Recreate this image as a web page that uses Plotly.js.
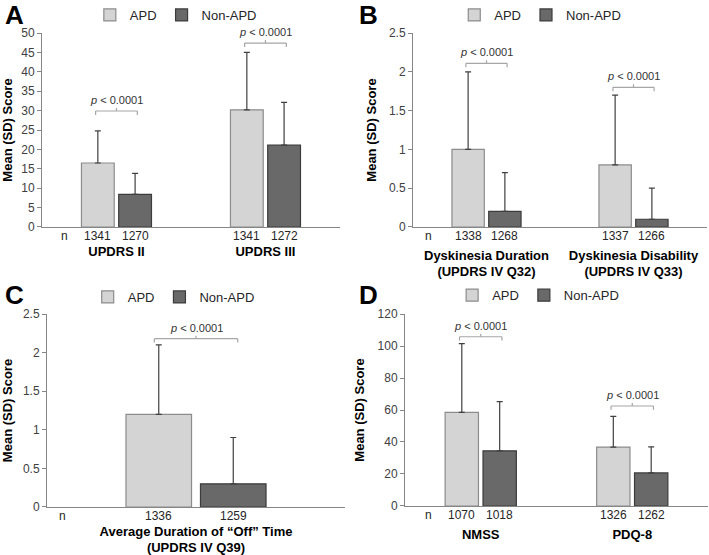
<!DOCTYPE html>
<html>
<head>
<meta charset="utf-8">
<script src="https://cdn.plot.ly/plotly-3.0.1.min.js"></script>
<style>
  html, body { margin: 0; padding: 0; background: #fff; }
  #chartBox { width: 709px; height: 555px; }
</style>
</head>
<body>
<div id="chartBox"></div>
<script>
// A: UPDRS II / III
const groupsA = ['UPDRS II', 'UPDRS III'];
const apdMeanA = [16.5, 30.2];
const apdSdA = [8.3, 14.8];
const nonMeanA = [8.4, 21.1];
const nonSdA = [5.4, 11.0];
const apdNA = [1341, 1341];
const nonNA = [1270, 1272];
const bracketA = [29.9, 47.4];

// B: dyskinesia
const groupsB = ['Dyskinesia Duration<br>(UPDRS IV Q32)', 'Dyskinesia Disability<br>(UPDRS IV Q33)'];
const apdMeanB = [1.0, 0.8];
const apdSdB = [1.0, 0.9];
const nonMeanB = [0.2, 0.1];
const nonSdB = [0.5, 0.4];
const apdNB = [1338, 1337];
const nonNB = [1268, 1266];
const bracketB = [2.11, 1.80];

// C: off time
const groupsC = ['Average Duration of \u201cOff\u201d Time<br>(UPDRS IV Q39)'];
const apdMeanC = [1.2];
const apdSdC = [0.9];
const nonMeanC = [0.3];
const nonSdC = [0.6];
const apdNC = [1336];
const nonNC = [1259];
const bracketC = [2.18];

// D: NMSS / PDQ-8
const groupsD = ['NMSS', 'PDQ-8'];
const apdMeanD = [58.5, 36.8];
const apdSdD = [43.0, 19.2];
const nonMeanD = [34.5, 20.7];
const nonSdD = [30.8, 16.3];
const apdND = [1070, 1326];
const nonND = [1018, 1262];
const bracketD = [105.8, 62.5];

const FONT = 'Liberation Sans, Arial, sans-serif';
const AXIS_COLOR = '#868686';

const panels = [
  { letter: 'A', groups: groupsA, apd: apdMeanA, apdSd: apdSdA, non: nonMeanA, nonSd: nonSdA, apdN: apdNA, nonN: nonNA, bracket: bracketA,
    yRange: [0, 50], dtick: 5, xDom: [0.0592, 0.4795], yDom: [0.591, 0.9405], standoff: 12, nX: 0.057,
    legendPos: [0.248, 0.973], letterPos: [0.004, 0.973] },
  { letter: 'B', groups: groupsB, apd: apdMeanB, apdSd: apdSdB, non: nonMeanB, nonSd: nonSdB, apdN: apdNB, nonN: nonNB, bracket: bracketB,
    yRange: [0, 2.5], dtick: 0.5, xDom: [0.5825, 0.9972], yDom: [0.591, 0.9405], standoff: 16, nX: 0.034,
    legendPos: [0.762, 0.973], letterPos: [0.503, 0.973] },
  { letter: 'C', groups: groupsC, apd: apdMeanC, apdSd: apdSdC, non: nonMeanC, nonSd: nonSdC, apdN: apdNC, nonN: nonNC, bracket: bracketC,
    yRange: [0, 2.5], dtick: 0.5, xDom: [0.0663, 0.4866], yDom: [0.0865, 0.4342], standoff: 12, nX: 0.034,
    legendPos: [0.245, 0.465], letterPos: [0.004, 0.468] },
  { letter: 'D', groups: groupsD, apd: apdMeanD, apdSd: apdSdD, non: nonMeanD, nonSd: nonSdD, apdN: apdND, nonN: nonND, bracket: bracketD,
    yRange: [0, 120], dtick: 20, xDom: [0.5712, 0.9986], yDom: [0.0883, 0.4342], standoff: 16, nX: 0.06,
    legendPos: [0.759, 0.468], letterPos: [0.503, 0.468] },
];

const data = [];
const layout = {
  width: 709,
  height: 555,
  margin: { l: 0, r: 0, t: 0, b: 0 },
  paper_bgcolor: '#fff',
  plot_bgcolor: 'rgba(0,0,0,0)',
  font: { family: FONT, color: '#262626' },
  barmode: 'group',
  bargap: 0.5,
  bargroupgap: 0.12,
  showlegend: true,
  annotations: [],
  shapes: [],
};

panels.forEach((p, k) => {
  const sfx = k === 0 ? '' : String(k + 1);
  const xa = 'x' + sfx, ya = 'y' + sfx;
  const legendName = 'legend' + sfx;
  const zeros = p.apd.map(() => 0);

  data.push({
    type: 'bar', name: 'APD', x: p.groups, y: p.apd,
    xaxis: xa, yaxis: ya, legend: legendName,
    marker: { color: '#d4d4d4', line: { color: '#8c8c8c', width: 1.2 } },
    error_y: { type: 'data', symmetric: false, array: p.apdSd, arrayminus: zeros, color: '#404040', thickness: 1.2, width: 3 },
    hoverinfo: 'skip',
  });
  data.push({
    type: 'bar', name: 'Non-APD', x: p.groups, y: p.non,
    xaxis: xa, yaxis: ya, legend: legendName,
    marker: { color: '#696969', line: { color: '#3c3c3c', width: 1.2 } },
    error_y: { type: 'data', symmetric: false, array: p.nonSd, arrayminus: zeros, color: '#404040', thickness: 1.2, width: 3 },
    hoverinfo: 'skip',
  });

  layout['xaxis' + sfx] = {
    domain: p.xDom, anchor: ya, type: 'category',
    range: [-0.5, p.groups.length - 0.5],
    showline: true, linecolor: AXIS_COLOR, linewidth: 1,
    ticks: '', showgrid: false, zeroline: false,
    tickfont: { family: FONT, size: 13, color: '#000', weight: 'bold' },
    ticklabelstandoff: p.standoff,
    fixedrange: true,
  };
  layout['yaxis' + sfx] = {
    domain: p.yDom, anchor: xa,
    range: p.yRange, dtick: p.dtick,
    showline: true, linecolor: AXIS_COLOR, linewidth: 1,
    ticks: 'outside', ticklen: 4, tickcolor: AXIS_COLOR,
    showgrid: false, zeroline: false,
    tickfont: { family: FONT, size: 12, color: '#404040' },
    title: { text: 'Mean (SD) Score', font: { family: FONT, size: 13, color: '#000', weight: 'bold' }, standoff: 9 },
    fixedrange: true,
  };
  layout[legendName] = {
    orientation: 'h', x: p.legendPos[0], y: p.legendPos[1],
    xanchor: 'center', yanchor: 'middle', xref: 'paper', yref: 'paper',
    font: { family: FONT, size: 13, color: '#262626' },
    itemwidth: 30, bgcolor: 'rgba(0,0,0,0)', tracegroupgap: 0,
  };

  // panel letter
  layout.annotations.push({
    xref: 'paper', yref: 'paper', x: p.letterPos[0], y: p.letterPos[1],
    xanchor: 'left', yanchor: 'middle', showarrow: false,
    text: '<b>' + p.letter + '</b>', font: { family: FONT, size: 26, color: '#000' },
  });
  // "n" label
  layout.annotations.push({
    xref: xa + ' domain', yref: ya + ' domain', x: p.nX, y: 0, yanchor: 'top', yshift: 0,
    showarrow: false, text: 'n', font: { family: FONT, size: 12, color: '#262626' },
  });

  const span = p.yRange[1] - p.yRange[0];
  const leg = span * 0.02;
  p.groups.forEach((g, i) => {
    // n counts under each bar
    [[p.apdN[i], i - 0.125], [p.nonN[i], i + 0.125]].forEach(([n, xPos]) => {
      layout.annotations.push({
        xref: xa, yref: ya + ' domain', x: xPos, y: 0, yanchor: 'top', yshift: 0,
        showarrow: false, text: String(n), font: { family: FONT, size: 12, color: '#262626' },
      });
    });
    // significance bracket
    const yb = p.bracket[i];
    const x0 = i - 0.14, x1 = i + 0.14;
    const line = { color: '#a6a6a6', width: 1.2 };
    layout.shapes.push(
      { type: 'line', xref: xa, yref: ya, x0: x0, x1: x1, y0: yb, y1: yb, line: line },
      { type: 'line', xref: xa, yref: ya, x0: x0, x1: x0, y0: yb, y1: yb - leg, line: line },
      { type: 'line', xref: xa, yref: ya, x0: x1, x1: x1, y0: yb, y1: yb - leg, line: line },
      { type: 'line', xref: xa, yref: ya, x0: i, x1: i, y0: yb, y1: yb + leg * 0.8, line: line },
    );
    layout.annotations.push({
      xref: xa, yref: ya, x: i, y: yb, yanchor: 'bottom', yshift: 3,
      showarrow: false, text: '<i>p</i> < 0.0001', font: { family: FONT, size: 11, color: '#333' },
    });
  });
});

Plotly.newPlot('chartBox', data, layout, { displayModeBar: false, staticPlot: true });
</script>
</body>
</html>
